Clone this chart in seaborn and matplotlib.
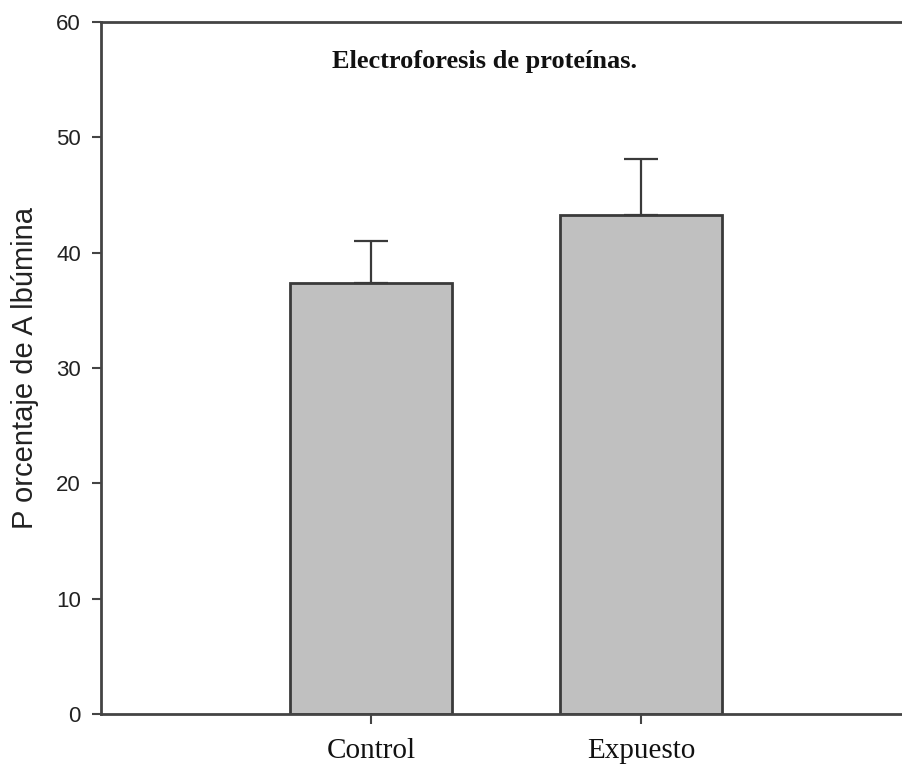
import matplotlib
matplotlib.use("Agg")
import matplotlib.pyplot as plt
import seaborn as sns
import pandas as pd

# Percentage of albumin by group (mean and upper error)
groups = ["Control", "Expuesto"]
albumin_pct = [37.4, 43.3]
albumin_err = [3.6, 4.8]
y_ticks = [0, 10, 20, 30, 40, 50, 60]

df = pd.DataFrame({"grupo": groups, "albumina": albumin_pct})

sns.set_style("white")
plt.rcParams["font.family"] = ["Liberation Sans", "DejaVu Sans"]

fig = plt.figure(figsize=(9.03, 7.65), dpi=100)
W, H = 903, 765
ax = fig.add_axes([101 / W, 1 - 714 / H, 810 / W, 692 / H])

edge = "#3a3a3a"
sns.barplot(data=df, x="grupo", y="albumina", ax=ax, color="#c0c0c0",
            saturation=1, width=0.6, edgecolor=edge, linewidth=2.0,
            errorbar=None)

ax.errorbar(range(len(groups)), albumin_pct,
            yerr=[[0] * len(groups), albumin_err],
            fmt="none", ecolor=edge, elinewidth=1.6, capsize=12,
            capthick=1.6, zorder=1)

ax.set_xlim(-1, 2)
ax.set_ylim(0, 60)
ax.set_yticks(y_ticks)
ax.set_yticklabels([str(t) for t in y_ticks], fontsize=16, color="#222222")
ax.set_xticks(range(len(groups)))
ax.set_xticklabels(groups, fontsize=21, color="#111111",
                   family=["Liberation Serif"])

for side in ["left", "top", "bottom"]:
    ax.spines[side].set_visible(True)
    ax.spines[side].set_color("#444444")
    ax.spines[side].set_linewidth(2.0)
ax.spines["right"].set_visible(False)

ax.tick_params(axis="y", direction="out", length=6.5, width=1.5,
               color="#444444", pad=8, left=True)
ax.tick_params(axis="x", direction="out", length=7, width=1.5,
               color="#444444", pad=10, bottom=True)

ax.set_xlabel("")
ax.set_ylabel("P orcentaje de A lbúmina", fontsize=21, color="#222222")
ax.yaxis.set_label_coords(-0.077, 0.5)

ax.text(0.422, 56.6, "Electroforesis de proteínas.", ha="center",
        va="center", fontsize=19, fontweight="bold", color="#111111",
        family=["Liberation Serif"])

fig.savefig("out.png", dpi=100)
